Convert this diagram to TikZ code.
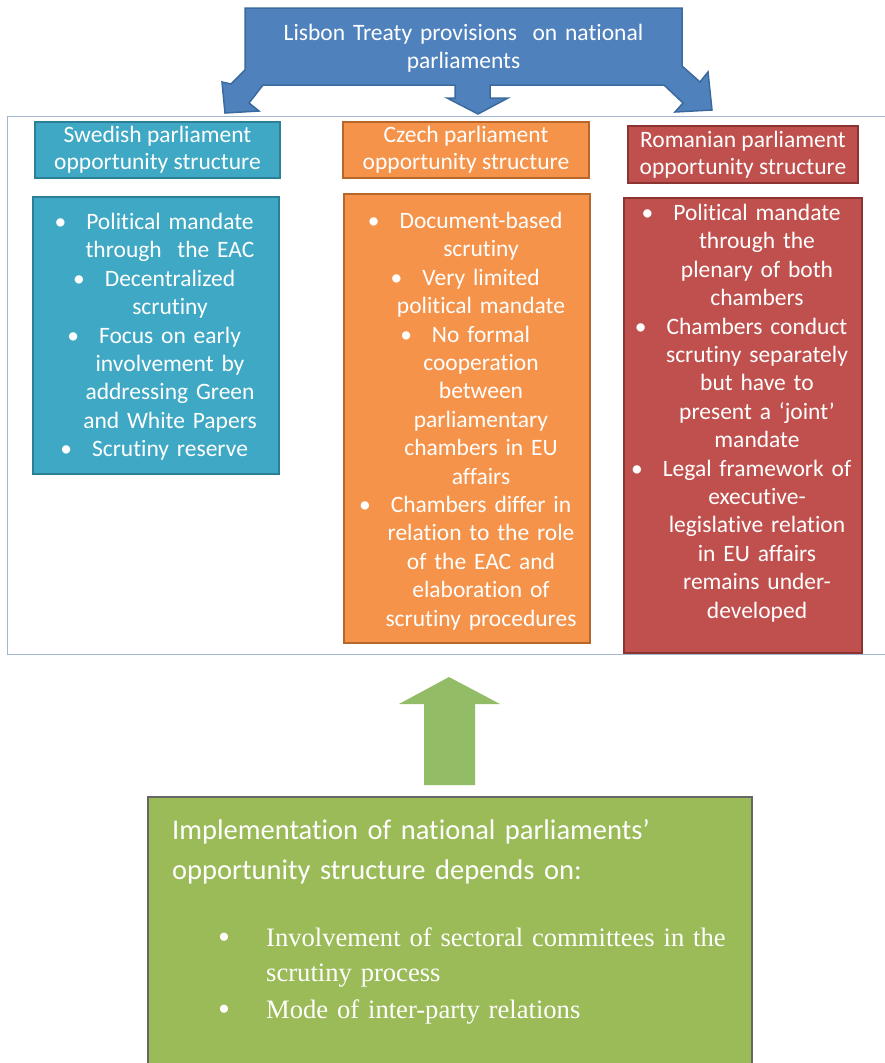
\documentclass[tikz,border=0pt]{standalone}
\usepackage{fontspec}
\setmainfont{Carlito}[Ligatures=NoCommon]
\newfontfamily\tnr{Liberation Serif}
\definecolor{topblue}{HTML}{4F81BD}
\definecolor{topline}{HTML}{3A6A9E}
\definecolor{teal}{HTML}{3FA8C4}
\definecolor{tealline}{HTML}{2C7F97}
\definecolor{orng}{HTML}{F5934A}
\definecolor{orngline}{HTML}{B8672C}
\definecolor{rred}{HTML}{C0504D}
\definecolor{rredline}{HTML}{8C3432}
\definecolor{grn}{HTML}{9BBB59}
\definecolor{grnarrow}{HTML}{93BC66}
\definecolor{frameline}{HTML}{A3B6CF}
\newcommand{\bul}{\leavevmode\llap{\textbullet\hspace{20pt}}}
\begin{document}
\begin{tikzpicture}[x=1pt,y=-1pt,
  hdr/.style={draw, line width=1.6pt, text=white, font=\fontsize{23.5}{27}\selectfont, align=center, inner sep=0pt},
  bodybox/.style={draw, line width=1.6pt, inner sep=0pt},
  bodytxt/.style={text=white, font=\fontsize{23.5}{28.4}\selectfont, align=center, text width=250pt, inner sep=0pt, anchor=base},
  topshape/.style={fill=topblue, draw=topline, line width=1.5pt, line join=miter},
  tnrtxt/.style={text=white, font=\tnr\fontsize{26.6}{35}\selectfont, inner sep=0pt, anchor=base west, align=left, text width=480pt},
  tnrbul/.style={text=white, font=\tnr\fontsize{34}{35}\selectfont, inner sep=0pt, anchor=base}]
\useasboundingbox (0,0) rectangle (885,1063);
\clip (0,0) rectangle (885,1063);
\fill[white] (0,0) rectangle (885,1063);

% outer frame
\node[draw=frameline, line width=1pt, minimum width=890pt, minimum height=538pt, inner sep=0pt] (frame) at (452,385) {};

% top callout with three arrows
\path[topshape] (245,8) -- (682,8) -- (682,66) -- (700,82) -- (708,72) -- (712,110) -- (675,112) -- (683,103) -- (664,85)
  -- (490,85) -- (490,98) -- (508,98) -- (478,114) -- (447,98) -- (455,98) -- (455,85)
  -- (263,85) -- (249,103) -- (259,111) -- (225,113) -- (222,82) -- (231,84) -- (245,70) -- cycle;
\node[text=white, font=\fontsize{23.5}{28}\selectfont, align=center, text width=420pt, inner sep=0pt, anchor=base] (top) at (463.5,40.5)
  {Lisbon Treaty provisions\ \ on national\\parliaments};

% headers
\node[hdr, fill=teal, draw=tealline, minimum width=245pt, minimum height=56pt] (swh) at (157.5,150)
  {Swedish parliament\\opportunity structure};
\node[hdr, fill=orng, draw=orngline, minimum width=246pt, minimum height=56pt] (czh) at (466,150)
  {Czech parliament\\opportunity structure};
\node[hdr, fill=rred, draw=rredline, minimum width=230pt, minimum height=57pt] (roh) at (743,154.5)
  {Romanian parliament\\opportunity structure};

% body boxes
\node[bodybox, fill=teal, draw=tealline, minimum width=246pt, minimum height=277pt] (swb) at (156,335.5) {};
\node[bodybox, fill=orng, draw=orngline, minimum width=246pt, minimum height=449pt] (czb) at (467,418.5) {};
\node[bodybox, fill=rred, draw=rredline, minimum width=238pt, minimum height=455pt] (rob) at (743,425.5) {};

\node[bodytxt] (swt) at (170,229.5)
  {\bul Political mandate\\through\ \ the EAC\\\bul Decentralized\\scrutiny\\\bul Focus on early\\involvement by\\addressing Green\\and White Papers\\\bul Scrutiny reserve};
\node[bodytxt] (czt) at (481,228.5)
  {\bul Document-based\\scrutiny\\\bul Very limited\\political mandate\\\bul No formal\\cooperation\\between\\parliamentary\\chambers in EU\\affairs\\\bul Chambers differ in\\relation to the role\\of the EAC and\\elaboration of\\scrutiny procedures};
\node[bodytxt] (rot) at (757,220.5)
  {\bul Political mandate\\through the\\plenary of both\\chambers\\\bul Chambers conduct\\scrutiny separately\\but have to\\present a ‘joint’\\mandate\\\bul Legal framework of\\executive-\\legislative relation\\in EU affairs\\remains under-\\developed};

% green arrow
\path[fill=grnarrow] (449,677) -- (500,704) -- (475,704) -- (475,785) -- (424,785) -- (424,704) -- (399,704) -- cycle;

% green box
\node[fill=grn, draw=black!60, line width=1.5pt, minimum width=604pt, minimum height=320pt, inner sep=0pt] (impl) at (450,957) {};
\node[text=white, font=\fontsize{28.5}{40}\selectfont, align=left, text width=570pt, inner sep=0pt, anchor=base west] (implt) at (172,839)
  {Implementation of national parliaments’\\opportunity structure depends on:};
\node[tnrbul] (bul1) at (224,948) {•};
\node[tnrtxt] (it1) at (266,946.5)
  {\makebox[461pt][s]{Involvement of sectoral committees in the}\\scrutiny process};
\node[tnrbul] (bul2) at (224,1020) {•};
\node[tnrtxt] (it2) at (266,1018.5) {Mode of inter-party relations};
\end{tikzpicture}
\end{document}
